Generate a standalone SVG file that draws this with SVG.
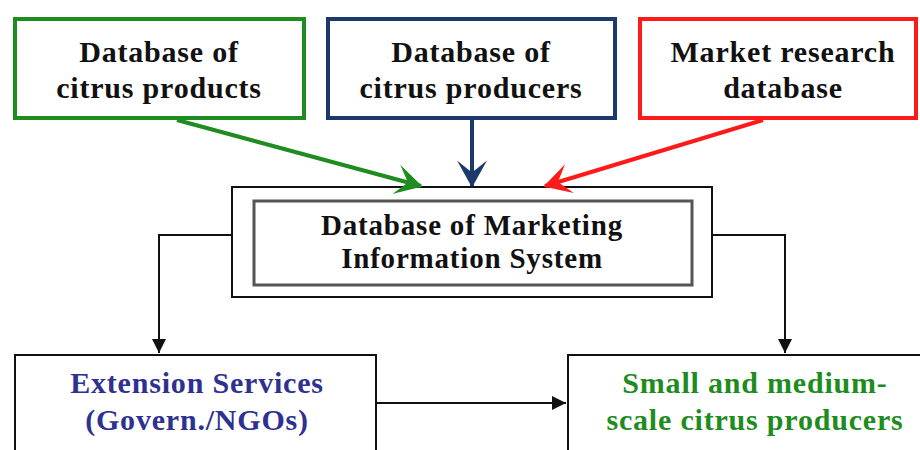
<svg xmlns="http://www.w3.org/2000/svg" width="920" height="450" viewBox="0 0 920 450">
<defs>
<style>
text{font-family:'Liberation Serif','DejaVu Serif','Times New Roman',serif;font-weight:bold;font-size:30px;text-anchor:middle;letter-spacing:0.8px}
.blk{fill:#111}
.c{fill:none;stroke:#111;stroke-width:2}
</style>
<marker id="ag" viewBox="0 0 9 10" refX="8.5" refY="5" markerWidth="6.75" markerHeight="7.5" markerUnits="strokeWidth" orient="auto"><path d="M0,0 L9,5 L0,10 L4,5 z" fill="#1e8c1e"/></marker>
<marker id="ab" viewBox="0 0 9 10" refX="8.5" refY="5" markerWidth="6.75" markerHeight="7.5" markerUnits="strokeWidth" orient="auto"><path d="M0,0 L9,5 L0,10 L4,5 z" fill="#1b3a6b"/></marker>
<marker id="ar" viewBox="0 0 9 10" refX="8.5" refY="5" markerWidth="6.75" markerHeight="7.5" markerUnits="strokeWidth" orient="auto"><path d="M0,0 L9,5 L0,10 L4,5 z" fill="#ff1a1a"/></marker>
<marker id="ak" viewBox="0 0 10 10" refX="10" refY="5" markerWidth="7" markerHeight="7" markerUnits="strokeWidth" orient="auto"><path d="M0,0 L10,5 L0,10 z" fill="#111"/></marker>
</defs>
<rect width="920" height="450" fill="#fff"/>
<g id="products">
<rect x="15" y="19" width="289" height="99" fill="#fff" stroke="#1e8c1e" stroke-width="4"/>
<text class="blk" x="159" y="62">Database of</text>
<text class="blk" x="159" y="98">citrus products</text>
</g>
<g id="producers">
<rect x="328" y="19" width="287" height="99" fill="#fff" stroke="#1b3a6b" stroke-width="4"/>
<text class="blk" x="471" y="62">Database of</text>
<text class="blk" x="471" y="98">citrus producers</text>
</g>
<g id="market">
<rect x="640" y="19" width="276" height="99" fill="#fff" stroke="#ff1a1a" stroke-width="4"/>
<text class="blk" x="783" y="62">Market research</text>
<text class="blk" x="783" y="98">database</text>
</g>
<g id="mis">
<rect x="232" y="187" width="480" height="110" fill="#fff" stroke="#111" stroke-width="2"/>
<rect x="254" y="201" width="438" height="84" fill="none" stroke="#555" stroke-width="3"/>
<text class="blk" x="472" y="235" style="font-size:29px">Database of Marketing</text>
<text class="blk" x="472" y="268" style="font-size:29px">Information System</text>
</g>
<g id="extension">
<rect x="15" y="355" width="361" height="110" fill="#fff" stroke="#111" stroke-width="2"/>
<text x="197" y="393" fill="#2e3192">Extension Services</text>
<text x="197" y="430" fill="#2e3192">(Govern./NGOs)</text>
</g>
<g id="smallscale">
<rect x="568" y="355" width="370" height="110" fill="#fff" stroke="#111" stroke-width="2"/>
<text x="755" y="393" fill="#1e8c1e">Small and medium-</text>
<text x="755" y="430" fill="#1e8c1e">scale citrus producers</text>
</g>
<g id="connectors">
<line x1="177" y1="120" x2="421" y2="186" stroke="#1e8c1e" stroke-width="4" marker-end="url(#ag)"/>
<line x1="472" y1="120" x2="472" y2="186" stroke="#1b3a6b" stroke-width="4" marker-end="url(#ab)"/>
<line x1="763" y1="120" x2="545" y2="186" stroke="#ff1a1a" stroke-width="4" marker-end="url(#ar)"/>
<path class="c" d="M232,235 H159 V353" marker-end="url(#ak)"/>
<path class="c" d="M712,235 H785 V353" marker-end="url(#ak)"/>
<path class="c" d="M376,403 H566" marker-end="url(#ak)"/>
</g>
</svg>
